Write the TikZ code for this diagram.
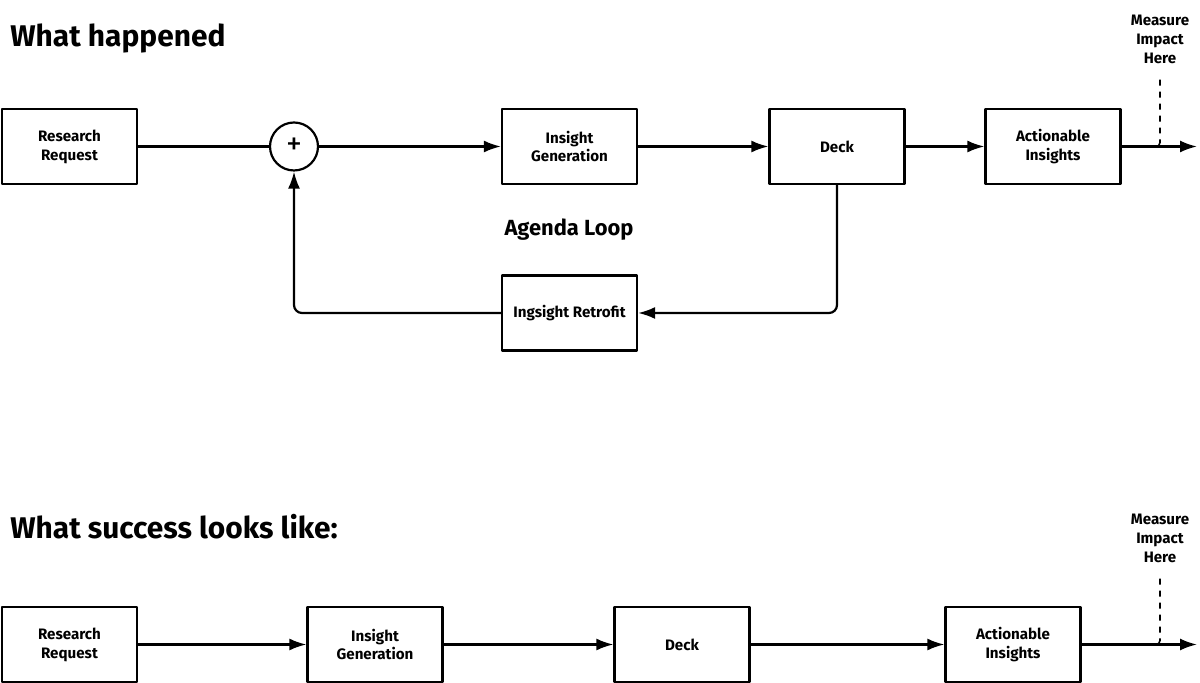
\documentclass[tikz,border=0pt]{standalone}
\usepackage{fontspec}
\setmainfont{Fira Sans}
\usetikzlibrary{arrows.meta}
\tikzset{
  blockbox/.style={draw,line width=1.1bp,minimum width=67.5bp,minimum height=37.5bp,inner sep=1bp,align=center,font=\bfseries\fontsize{7.6}{9.5}\selectfont},
  sumnode/.style={draw,circle,line width=1.1bp,minimum size=24bp,inner sep=0pt,font=\fontsize{16}{16}\selectfont},
  heading/.style={anchor=west,inner sep=0pt,font=\bfseries\fontsize{15}{18}\selectfont},
  loophead/.style={inner sep=0pt,font=\bfseries\fontsize{11}{13}\selectfont},
  impactnote/.style={inner sep=0pt,align=center,font=\bfseries\fontsize{7.6}{9.5}\selectfont},
  flow/.style={line width=1.1bp},
}
\begin{document}
\begin{tikzpicture}[>={Latex[length=8.5bp,width=6bp]},line join=bevel,]
\useasboundingbox (0bp,0bp) rectangle (600bp,341.5bp);
%% what happened
\node (head_0) at (5bp,322.5bp) [heading] {What happened};
\node (node_0) at (34.75bp,268.25bp) [blockbox] {Research\\Request};
  \node (sum_0) at (147bp,268.25bp) [sumnode] {+};
  \node (node_1) at (284.75bp,268.25bp) [blockbox] {Insight\\Generation};
  \node (node_2) at (418.5bp,268.25bp) [blockbox] {Deck};
  \node (node_3) at (526.5bp,268.25bp) [blockbox] {Actionable\\Insights};
  \node (loop_0) at (284.5bp,226.5bp) [loophead] {Agenda Loop};
  \node (node_4) at (284.75bp,185bp) [blockbox] {Ingsight Retrofit};
  \node (note_0) at (580bp,322bp) [impactnote] {Measure\\Impact\\Here};
  \coordinate (end_0) at (598.5bp,268.25bp);
  \draw [flow,black] (node_0) -- (sum_0);
  \draw [flow,black,->] (sum_0) -- (node_1);
  \draw [flow,black,->] (node_1) -- (node_2);
  \draw [flow,black,->] (node_2) -- (node_3);
  \draw [flow,black,->] (node_3) -- (end_0);
  \draw [flow,black,->,rounded corners=4bp] (node_2.south) |- (node_4.east);
  \draw [flow,black,->,rounded corners=4bp] (node_4.west) -| (sum_0.south);
  \draw [black,line width=0.8bp,dashed,rounded corners=2bp] ([yshift=-8bp]note_0.south) |- ([xshift=-5bp]node_3.east -| note_0.south);
%
%% what success looks like
\node (head_1) at (5bp,78bp) [heading] {What success looks like:};
\node (node_5) at (34.75bp,19.25bp) [blockbox] {Research\\Request};
  \node (node_6) at (187.5bp,19.25bp) [blockbox] {Insight\\Generation};
  \node (node_7) at (341bp,19.25bp) [blockbox] {Deck};
  \node (node_8) at (506.5bp,19.25bp) [blockbox] {Actionable\\Insights};
  \node (note_1) at (580bp,72.5bp) [impactnote] {Measure\\Impact\\Here};
  \coordinate (end_1) at (598.5bp,19.25bp);
  \draw [flow,black,->] (node_5) -- (node_6);
  \draw [flow,black,->] (node_6) -- (node_7);
  \draw [flow,black,->] (node_7) -- (node_8);
  \draw [flow,black,->] (node_8) -- (end_1);
  \draw [black,line width=0.8bp,dashed,rounded corners=2bp] ([yshift=-8bp]note_1.south) |- ([xshift=-5bp]node_8.east -| note_1.south);
%
\end{tikzpicture}
\end{document}
